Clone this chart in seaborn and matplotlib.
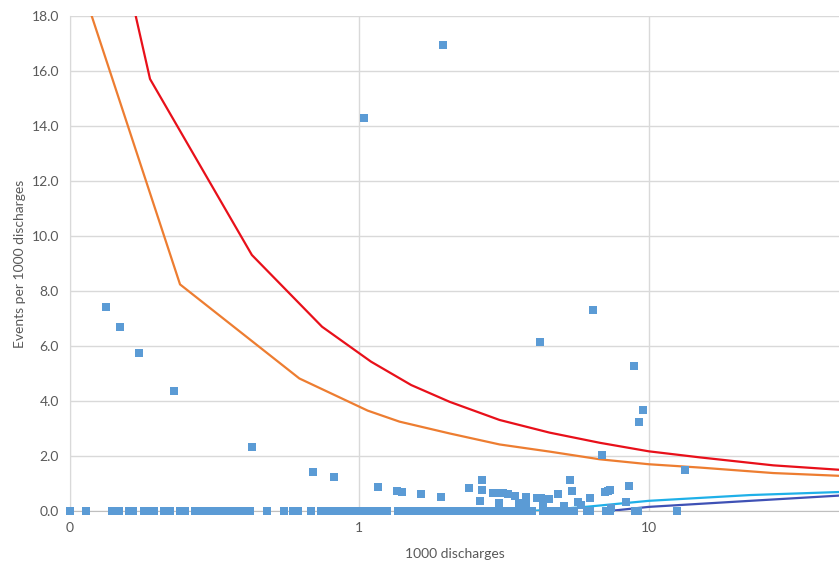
import matplotlib
matplotlib.use('Agg')
import matplotlib.pyplot as plt
import numpy as np
import pandas as pd
import seaborn as sns

# units with no events (rate 0.0), thousands of discharges
zero_x = [0.10, 0.114, 0.140, 0.148, 0.160, 0.165, 0.180, 0.188, 0.195, 0.211,
          0.222, 0.240, 0.250, 0.271, 0.282, 0.293, 0.305, 0.318, 0.328, 0.344,
          0.360, 0.384, 0.400, 0.420, 0.481, 0.550, 0.591, 0.615, 0.682, 0.739,
          0.769, 0.800, 0.832, 0.867, 0.902, 0.938, 0.977, 1.016, 1.066, 1.118,
          1.163, 1.221, 1.250, 1.364, 1.420, 1.478, 1.538, 1.600, 1.665, 1.733,
          1.789, 1.891, 1.968, 2.048, 2.131, 2.218, 2.308, 2.402, 2.500, 2.601,
          2.707, 2.817, 2.932, 3.051, 3.175, 3.304, 3.438, 3.578, 3.724, 3.937,
          4.297, 4.473, 4.654, 4.843, 5.040, 5.245, 5.499, 6.097, 6.246, 7.100,
          7.328, 8.951, 9.170, 12.50]

# units with at least one event
event_x = [0.133, 0.149, 0.173, 0.229, 0.426, 0.693, 0.819, 1.04, 1.94, 4.20,
           6.40, 6.88, 8.87, 9.24, 9.53, 13.3,
           1.157, 1.35, 1.40, 1.626, 1.918, 2.40, 2.66, 2.65, 2.62, 2.89,
           3.03, 3.01, 3.13, 3.26, 3.45, 3.55, 3.75, 3.77, 4.12, 4.25,
           4.31, 4.52, 4.87, 5.33, 5.43, 5.10, 5.70, 5.82, 6.28, 7.05,
           7.33, 7.23, 7.42, 8.32, 8.55]
event_y = [7.42, 6.69, 5.75, 4.36, 2.33, 1.42, 1.24, 14.29, 16.95, 6.15,
           7.31, 2.04, 5.27, 3.24, 3.67, 1.49,
           0.86, 0.73, 0.69, 0.61, 0.50, 0.82, 1.12, 0.76, 0.36, 0.67,
           0.30, 0.64, 0.64, 0.61, 0.56, 0.28, 0.52, 0.24, 0.46, 0.46,
           0.21, 0.43, 0.61, 1.12, 0.73, 0.18, 0.34, 0.22, 0.46, 0.68,
           0.76, 0.73, 0.12, 0.33, 0.92]

# control limits
ucl3_x = [0.10, 0.149, 0.189, 0.425, 0.743, 1.097, 1.51, 2.05, 3.05, 4.54,
          6.77, 10.0, 15.0, 26.9, 45.4]
ucl3_y = [30.0, 20.5, 15.71, 9.31, 6.70, 5.43, 4.58, 3.97, 3.31, 2.85,
          2.48, 2.17, 1.95, 1.66, 1.50]
ucl2_x = [0.10, 0.240, 0.620, 1.068, 1.375, 2.05, 3.05, 4.54, 6.77, 10.0,
          15.0, 26.9, 45.4]
ucl2_y = [20.4, 8.24, 4.82, 3.65, 3.25, 2.82, 2.42, 2.16, 1.88, 1.70,
          1.58, 1.38, 1.28]
lcl2_x = [3.9, 5.77, 10.0, 22.4, 45.4]
lcl2_y = [0.0, 0.13, 0.37, 0.58, 0.69]
lcl3_x = [7.3, 10.0, 22.4, 45.4]
lcl3_y = [0.0, 0.15, 0.37, 0.56]

points = pd.DataFrame({
    'n': zero_x + event_x,
    'rate': [0.0] * len(zero_x) + event_y,
})

sns.set_style('white')
plt.rcParams['font.family'] = ['Lato', 'DejaVu Sans']

fig = plt.figure(figsize=(8.39, 5.61), dpi=100)
ax = fig.add_axes([70 / 839, 50 / 561, 769 / 839, 495 / 561])

limits = [
    (ucl3_x, ucl3_y, '#E8101A'),
    (ucl2_x, ucl2_y, '#ED7D31'),
    (lcl2_x, lcl2_y, '#1FB0E8'),
    (lcl3_x, lcl3_y, '#3F51B5'),
]
for lx, ly, col in limits:
    sns.lineplot(x=lx, y=ly, ax=ax, color=col, linewidth=1.6,
                 sort=False, estimator=None, zorder=3)

sns.scatterplot(data=points, x='n', y='rate', ax=ax, marker='s', s=30,
                color='#5B9BD5', linewidth=0, zorder=4, clip_on=False)

ax.set_xscale('log')
ax.set_xlim(0.1, 45.4)
ax.set_ylim(0, 18)
ax.set_xticks([0.1, 1, 10])
ax.set_xticklabels(['0', '1', '10'])
ax.xaxis.set_minor_locator(matplotlib.ticker.NullLocator())
ax.set_yticks(np.arange(0, 19, 2))
ax.set_yticklabels([f'{v:.1f}' for v in np.arange(0, 19, 2)])

ax.grid(True, color='#D9D9D9', linewidth=1)
ax.set_axisbelow(True)
for side in ['top', 'right']:
    ax.spines[side].set_visible(False)
ax.spines['left'].set_color('#D9D9D9')
ax.spines['bottom'].set_color('#BFBFBF')
ax.tick_params(axis='both', length=0, labelsize=10, labelcolor='#595959', pad=8)

ax.set_xlabel('1000 discharges', fontsize=10, color='#595959')
ax.set_ylabel('Events per 1000 discharges', fontsize=10, color='#595959')
ax.xaxis.set_label_coords(0.5, -0.075)
ax.yaxis.set_label_coords(-0.057, 0.5)

fig.savefig('out.png', dpi=100)
